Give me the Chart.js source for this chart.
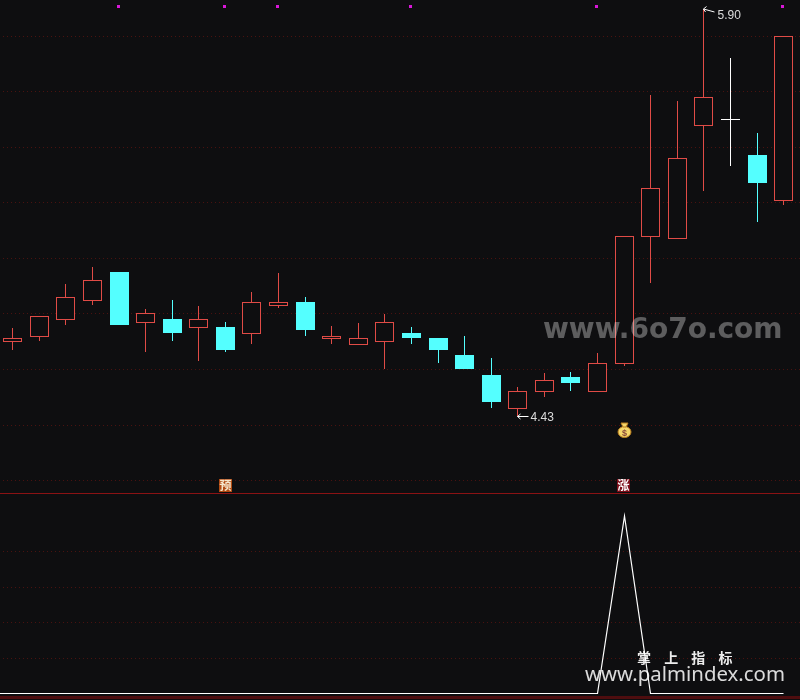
<!DOCTYPE html>
<html>
<head>
<meta charset="utf-8">
<script src="https://cdn.jsdelivr.net/npm/chart.js@4/dist/chart.umd.js"></script>
<style>
    html, body { margin: 0; padding: 0; background: #0e0e10; }
    #wrap { width: 800px; height: 700px; }
</style>
</head>
<body>
<div id="wrap"><canvas id="klineChart" width="800" height="700"></canvas></div>
<script>
// daily candles
const opens  = [4.697,4.715,4.777,4.845,4.950,4.766,4.780,4.748,4.751,4.726,4.827,4.842,4.708,4.686,4.697,4.730,4.712,4.650,4.578,4.455,4.517,4.571,4.517,4.618,5.077,5.069,5.477,5.503,5.373,5.207];
const closes = [4.712,4.791,4.860,4.921,4.759,4.802,4.730,4.780,4.668,4.842,4.842,4.741,4.719,4.712,4.770,4.712,4.668,4.600,4.481,4.520,4.560,4.549,4.621,5.080,5.253,5.362,5.582,5.500,5.272,5.803];
const highs  = [4.748,4.791,4.907,4.968,4.950,4.816,4.849,4.827,4.770,4.878,4.947,4.860,4.755,4.766,4.798,4.751,4.712,4.719,4.640,4.535,4.585,4.589,4.658,5.080,5.589,5.568,5.900,5.723,5.452,5.803];
const lows   = [4.668,4.701,4.759,4.831,4.759,4.661,4.701,4.629,4.661,4.690,4.820,4.719,4.690,4.686,4.600,4.690,4.621,4.600,4.459,4.430,4.499,4.520,4.517,4.611,4.910,5.069,5.243,5.333,5.131,5.192];

// lower pane signal, first entry is the bar before the visible window
const signalIndexes = [-1,0,1,2,3,4,5,6,7,8,9,10,11,12,13,14,15,16,17,18,19,20,21,22,23,24,25,26,27,28,29];
const signal = [0,0,0,0,0,0,0,0,0,0,0,0,0,0,0,0,0,0,0,0,0,0,0,0,1,0,0,0,0,0,0];

// magenta ticks along the top edge, they sit 1px left of their candle
const markPositions = [3.97,7.97,9.97,14.97,21.97,28.97];
const markLevel = 3.8704;

const priceTicks = [5.802,5.604,5.402,5.203,5.001,4.802,4.600,4.398,4.199];
const signalTicks = [0.2,0.4,0.6,0.8];
const paneEdges = [1.1268,-0.0225];

const lowLabel = {index: 19, price: 4.43, text: '4.43'};
const highLabel = {index: 26, price: 5.90, text: '5.90'};
const tagYu = {index: 8, text: '预', bg: '#b04a12', color: '#f6e6cc'};
const tagZhang = {index: 22.97, text: '涨', bg: '#7a0c18', color: '#ffffff'};
const bagIndex = 23;

const RED = '#e04b46';
const CYAN = '#54ffff';
const WHITE = '#ffffff';
const BG = '#0e0e10';

const isDoji = i => Math.abs(closes[i] - opens[i]) < 0.005;
const isUp = i => closes[i] >= opens[i];
const candleColor = i => isDoji(i) ? WHITE : (isUp(i) ? RED : CYAN);

const xs = opens.map((_, i) => i);

// the source is a pixel chart, keep candles on whole pixels so 1px lines stay sharp
const snapPixels = (scale, fn) => {
    if (scale._snapped) return;
    scale._snapped = true;
    const orig = scale.getPixelForValue.bind(scale);
    scale.getPixelForValue = (v, i) => fn(orig(v, i));
};

const klineOverlay = {
    id: 'klineOverlay',
    afterDatasetsDraw(chart) {
        const {ctx, scales} = chart;
        const px = i => scales.x.getPixelForValue(i);
        const py = p => scales.y.getPixelForValue(p);

        ctx.save();
        ctx.textBaseline = 'alphabetic';

        // low / high price callouts
        ctx.strokeStyle = WHITE;
        ctx.lineWidth = 1;
        const lx = px(lowLabel.index), ly = py(lowLabel.price) + 0.5;
        ctx.beginPath();
        ctx.moveTo(lx, ly); ctx.lineTo(lx + 11, ly);
        ctx.moveTo(lx + 3, ly - 2.5); ctx.lineTo(lx, ly); ctx.lineTo(lx + 3, ly + 2.5);
        ctx.stroke();
        ctx.fillStyle = '#dcdcdc';
        ctx.font = '12px "Liberation Sans"';
        ctx.fillText(lowLabel.text, lx + 13, ly + 4.5);

        const hx = px(highLabel.index), hy = py(highLabel.price);
        ctx.beginPath();
        ctx.moveTo(hx, hy); ctx.lineTo(hx + 11, hy + 3);
        ctx.moveTo(hx + 3, hy - 2.5); ctx.lineTo(hx, hy); ctx.lineTo(hx + 2, hy + 3);
        ctx.stroke();
        ctx.fillText(highLabel.text, hx + 14, hy + 10);

        // signal tags sitting on the pane border
        [tagYu, tagZhang].forEach(t => {
            const tx = Math.floor(px(t.index));
            ctx.fillStyle = t.bg;
            ctx.fillRect(tx - 6, 479, 13, 13);
            ctx.fillStyle = t.color;
            ctx.font = 'bold 12px "Noto Sans CJK SC"';
            ctx.textAlign = 'center';
            ctx.fillText(t.text, tx + 0.5, 490);
            ctx.textAlign = 'left';
        });

        // money bag
        const bx = px(bagIndex), by = 432;
        ctx.fillStyle = '#f4d76a';
        ctx.strokeStyle = '#b97e1e';
        ctx.beginPath();
        ctx.ellipse(bx, by, 6.5, 5.5, 0, 0, Math.PI * 2);
        ctx.fill(); ctx.stroke();
        ctx.beginPath();
        ctx.moveTo(bx - 3.5, by - 9); ctx.lineTo(bx + 3.5, by - 9);
        ctx.lineTo(bx + 1.5, by - 5); ctx.lineTo(bx - 1.5, by - 5);
        ctx.closePath();
        ctx.fill(); ctx.stroke();
        ctx.fillStyle = '#8a4a3a';
        ctx.font = 'bold 9px "Liberation Sans"';
        ctx.textAlign = 'center';
        ctx.fillText('$', bx, by + 3.5);
        ctx.textAlign = 'left';

        // watermarks
        ctx.fillStyle = 'rgba(255,255,255,0.33)';
        ctx.font = 'bold 28px "DejaVu Sans"';
        ctx.letterSpacing = '0px';
        ctx.fillText('www.6o7o.com', 543, 338);

        ctx.fillStyle = 'rgba(255,255,255,0.92)';
        ctx.font = 'bold 14px "Noto Sans CJK SC"';
        ctx.letterSpacing = '5px';
        ctx.fillText('掌 上 指 标', 637, 663);

        ctx.fillStyle = 'rgba(255,255,255,0.85)';
        ctx.font = '20.4px "Noto Sans"';
        ctx.letterSpacing = '0px';
        ctx.fillText('www.palmindex.com', 585, 681);

        ctx.restore();
    }
};

new Chart(document.getElementById('klineChart').getContext('2d'), {
    type: 'bar',
    data: {
        datasets: [
            {
                label: 'body',
                order: 1,
                data: xs.map(i => ({x: i, y: [opens[i], closes[i]]})),
                barThickness: 19,
                inflateAmount: 0,
                borderWidth: c => isDoji(c.dataIndex) ? 0 : 1,
                borderSkipped: false,
                borderColor: c => candleColor(c.dataIndex),
                backgroundColor: c => (isDoji(c.dataIndex) || !isUp(c.dataIndex)) ? candleColor(c.dataIndex) : BG
            },
            {
                label: 'wick',
                order: 2,
                data: xs.map(i => ({x: i, y: [lows[i], highs[i]]})),
                barThickness: 1,
                inflateAmount: 0,
                borderWidth: 0,
                backgroundColor: c => candleColor(c.dataIndex)
            },
            {
                type: 'line',
                label: 'signal',
                order: 3,
                yAxisID: 'y2',
                data: signalIndexes.map((x, i) => ({x, y: signal[i]})),
                borderColor: WHITE,
                borderWidth: 1.2,
                pointRadius: 0,
                tension: 0
            },
            {
                type: 'scatter',
                label: 'mark',
                order: 0,
                yAxisID: 'y2',
                data: markPositions.map(x => ({x, y: markLevel})),
                pointStyle: 'rect',
                pointRadius: 2.13,
                borderWidth: 0,
                backgroundColor: '#d916d9'
            }
        ]
    },
    plugins: [klineOverlay],
    options: {
        responsive: false,
        animation: false,
        grouped: false,
        layout: {padding: 0, autoPadding: false},
        plugins: {legend: {display: false}, tooltip: {enabled: false}},
        scales: {
            x: {
                type: 'linear',
                display: false,
                offset: false,
                min: -0.47696,
                max: 29.6151,
                afterUpdate: s => snapPixels(s, p => Math.floor(p) + 0.5)
            },
            y: {
                position: 'left',
                min: 3.4043,
                max: 5.9325,
                afterUpdate: s => snapPixels(s, p => Math.round(p)),
                afterBuildTicks: s => { s.ticks = priceTicks.map(value => ({value})); },
                ticks: {display: false},
                border: {display: false, dash: [1, 3], dashOffset: 1},
                grid: {color: '#4a1210', drawTicks: false, tickLength: 0}
            },
            y2: {
                position: 'right',
                min: -0.0366,
                max: 3.907,
                afterBuildTicks: s => { s.ticks = signalTicks.concat(paneEdges).map(value => ({value})); },
                ticks: {display: false},
                border: {
                    display: false,
                    dash: c => paneEdges.includes(c.tick.value) ? [] : [1, 3],
                    dashOffset: 1
                },
                grid: {
                    drawTicks: false,
                    tickLength: 0,
                    lineWidth: c => c.tick.value < 0 ? 3 : 1,
                    color: c => c.tick.value < 0 ? '#4e0d0f' : (c.tick.value > 1 ? '#8a1214' : '#4a1210')
                }
            }
        }
    }
});
</script>
</body>
</html>
